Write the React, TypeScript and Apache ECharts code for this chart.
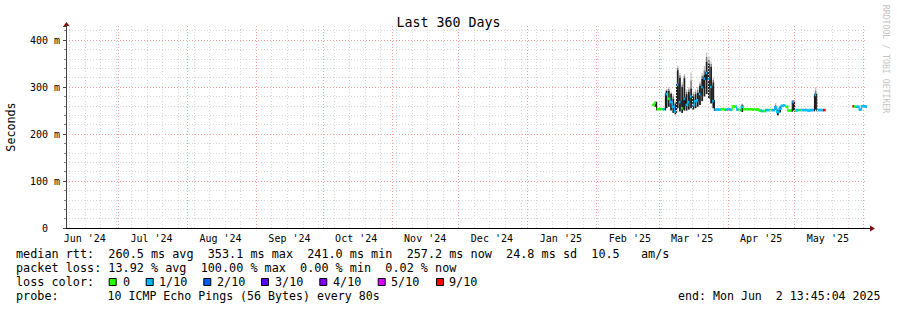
import React, { useEffect, useRef } from "react";
import * as echarts from "echarts";

// ---------- data ----------
const TITLE = "Last 360 Days";
const START = "2024-06-07T13:45:04Z";
const END = "2025-06-02T13:45:04Z";
const FIRST_DAY = "2025-02-26"; // first daily step of the median series

// median rtt per day (ms), null = no data
const medianMs: (number | null)[] = [
  262, 266, 253, 253, 253, 253,
  285, 275, 268, 258, 248, 305, 268, 255, 275, 262, 268, 280, 262, 270, 272,
  285, 300, 318, 330, 318, 300, 270,
  252, 252, 252, 253, 252, 252, 252, 252, 259, 258, 252, 251, 258, 253, 253,
  253, 253, 252, 252, 252, 250, 249, 249, 251, 251, 251, 251, 256, 247, 254,
  260, 261, 258, 250, 250, 268,
  250, 251, 251, 251, 251, 251, 250, 251, 251, 283, 251, 251, 251, 251,
  null, null, null, null, null, null, null, null, null, null, null, null,
  259, 258, 258, 252, 259, 259, 258,
];

// packet loss per day in tenths (colour class)
const lossTenths: number[] = [
  0, 0, 0, 0, 0, 1,
  1, 0, 1, 1, 1, 1, 1, 0, 1, 1, 1, 1, 1, 1, 1, 1, 1, 1, 1, 1, 1, 1,
  1, 1, 1, 0, 0, 1, 1, 1, 0, 0, 1, 0, 1, 0, 0, 0, 0, 0, 0, 0, 0, 1, 0, 1,
  1, 0, 1, 1, 1, 1, 1, 1, 0, 0, 0, 1,
  0, 1, 0, 1, 1, 1, 1, 1, 1, 1, 1, 1, 1, 9,
  0, 0, 0, 0, 0, 0, 0, 0, 0, 0, 0, 0,
  9, 0, 1, 1, 1, 1, 1,
];

// smoke (ping spread) on the days where it is visible
const smokeDates = [
  "2025-02-27",
  "2025-03-04", "2025-03-05", "2025-03-06", "2025-03-07", "2025-03-08",
  "2025-03-09", "2025-03-10", "2025-03-11", "2025-03-12", "2025-03-13",
  "2025-03-14", "2025-03-15", "2025-03-16", "2025-03-17", "2025-03-18",
  "2025-03-19", "2025-03-20", "2025-03-21", "2025-03-22", "2025-03-23",
  "2025-03-24", "2025-03-25",
  "2025-04-07", "2025-04-22", "2025-04-23", "2025-04-24", "2025-04-30",
  "2025-05-10",
];
const smokeLo = [
  258,
  255, 258, 250, 245, 242, 255, 248, 245, 250, 250, 252, 255, 252, 255, 258,
  262, 270, 280, 285, 275, 265, 255,
  247, 252, 240, 246, 250, 252,
];
const smokeHi = [
  268,
  292, 292, 285, 275, 265, 336, 320, 300, 319, 285, 290, 297, 280, 285, 288,
  303, 318, 326, 354, 350, 343, 310,
  262, 258, 252, 258, 271, 285,
];
const smokeMax = [
  270,
  296, 300, 290, 285, 270, 345, 330, 310, 328, 295, 300, 331, 290, 295, 300,
  312, 330, 345, 374, 365, 355, 320,
  265, 266, 254, 260, 272, 300,
];

// x axis: month start grid lines and mid-month labels
const monthStarts = [
  "2024-07-01", "2024-08-01", "2024-09-01", "2024-10-01", "2024-11-01",
  "2024-12-01", "2025-01-01", "2025-02-01", "2025-03-01", "2025-04-01",
  "2025-05-01", "2025-06-01",
];
const monthLabelDates = [
  "2024-06-16", "2024-07-16", "2024-08-16", "2024-09-16", "2024-10-16",
  "2024-11-16", "2024-12-16", "2025-01-16", "2025-02-16", "2025-03-16",
  "2025-04-16", "2025-05-16",
];
const monthLabels = [
  "Jun '24", "Jul '24", "Aug '24", "Sep '24", "Oct '24", "Nov '24",
  "Dec '24", "Jan '25", "Feb '25", "Mar '25", "Apr '25", "May '25",
];
const FIRST_SUNDAY = "2024-06-09"; // weekly minor grid

const Y_MAX = 430;

const LOSS_COLORS: Record<number, string> = {
  0: "#26ff00",
  1: "#00b8ff",
  2: "#0059ff",
  3: "#5e00ff",
  4: "#7e00ff",
  5: "#dd00ff",
  9: "#ff0000",
};
const lossLegend = [
  { label: "0", color: "#26ff00" },
  { label: "1/10", color: "#00b8ff" },
  { label: "2/10", color: "#0059ff" },
  { label: "3/10", color: "#5e00ff" },
  { label: "4/10", color: "#7e00ff" },
  { label: "5/10", color: "#dd00ff" },
  { label: "9/10", color: "#ff0000" },
];
const lossBoxX = [108.7, 145.7, 203.3, 261, 319.3, 377.7, 436];
const lossLabelX = [123, 159, 217, 275, 333, 391, 449];

const row1 = "median rtt:  260.5 ms avg  353.1 ms max  241.0 ms min  257.2 ms now  24.8 ms sd  10.5   am/s";
const row2 = "packet loss: 13.92 % avg  100.00 % max  0.00 % min  0.02 % now";
const row3 = "loss color:";
const row4a = "probe:";
const row4b = "10 ICMP Echo Pings (56 Bytes) every 80s";
const row4c = "end: Mon Jun  2 13:45:04 2025";

// ---------- helpers ----------
const DAY = 86400000;
const ms = (s: string) => Date.parse(s.length === 10 ? s + "T00:00:00Z" : s);
const START_MS = ms(START);
const END_MS = ms(END);
const FIRST_MS = ms(FIRST_DAY);
const pre = (s: string) => s.replace(/ /g, "\u00a0");
const FONT = '"DejaVu Sans Mono", "Liberation Mono", monospace';
const SMOKE_DARK = "#1e1e1e";

export default function App() {
  const ref = useRef<HTMLDivElement>(null);

  useEffect(() => {
    if (!ref.current) return;
    const chart = echarts.init(ref.current, undefined, { renderer: "svg" });

    const medianData: number[][] = [];
    medianMs.forEach((v, i) => {
      if (v == null) return;
      const prev = i > 0 ? medianMs[i - 1] : null;
      medianData.push([FIRST_MS + i * DAY, v, lossTenths[i], prev == null ? -1 : prev]);
    });
    const smokeData = smokeDates.map((d, i) => [ms(d), smokeLo[i], smokeHi[i], smokeMax[i]]);

    const weekLines: any[] = [];
    for (let t = ms(FIRST_SUNDAY); t < END_MS; t += 7 * DAY) weekLines.push({ xAxis: t });
    const monthLines = monthStarts.map((d) => ({ xAxis: ms(d) }));
    const labelMs = monthLabelDates.map(ms);

    const gridLine = (color: string) => ({
      symbol: ["none", "none"],
      silent: true,
      label: { show: false },
      emphasis: { disabled: true },
      lineStyle: { color, type: [1, 2], width: 1 },
    });

    const option: any = {
      animation: false,
      backgroundColor: "#ffffff",
      title: {
        text: TITLE,
        left: "center",
        top: 11,
        textStyle: { fontFamily: FONT, fontSize: 13.3, fontWeight: "normal", color: "#000" },
      },
      grid: { left: 66, right: 30, top: 26, bottom: 82, containLabel: false },
      xAxis: {
        type: "value",
        min: START_MS,
        max: END_MS,
        axisLine: { show: true, lineStyle: { color: "#000", width: 1 } },
        axisTick: { show: false },
        splitLine: { show: false },
        axisLabel: {
          customValues: labelMs,
          formatter: (v: number) => {
            const i = labelMs.indexOf(v);
            return i >= 0 ? monthLabels[i] : "";
          },
          fontFamily: FONT,
          fontSize: 10,
          color: "#000",
          margin: 5,
        },
      },
      yAxis: {
        type: "value",
        min: 0,
        max: Y_MAX,
        interval: 100,
        axisLine: { show: true, lineStyle: { color: "#444", width: 1 } },
        axisTick: { show: true, length: 3, lineStyle: { color: "#444" } },
        minorTick: { show: true, splitNumber: 5, length: 2, lineStyle: { color: "#888" } },
        splitLine: {
          show: true,
          showMinLine: false,
          showMaxLine: false,
          lineStyle: { color: "#f2a0a0", type: [1, 2], width: 1 },
        },
        minorSplitLine: { show: true, lineStyle: { color: "#d8d8d8", type: [1, 2], width: 1 } },
        axisLabel: {
          formatter: (v: number) => (v === 0 ? "0\u00a0\u00a0" : v % 100 === 0 ? `${v} m` : ""),
          showMaxLabel: false,
          fontFamily: FONT,
          fontSize: 10,
          color: "#000",
          margin: 6,
        },
      },
      series: [
        {
          type: "line",
          name: "weeks",
          data: [],
          z: 1,
          silent: true,
          markLine: { ...gridLine("#d8d8d8"), data: weekLines },
        },
        {
          type: "line",
          name: "months",
          data: [],
          z: 2,
          silent: true,
          markLine: { ...gridLine("#f2a0a0"), data: monthLines },
        },
        {
          type: "custom",
          name: "smoke",
          z: 3,
          silent: true,
          clip: true,
          data: smokeData,
          encode: { x: 0, y: [1, 2, 3] },
          renderItem: (_p: any, api: any) => {
            const t = api.value(0);
            const lo = api.value(1);
            const hi = api.value(2);
            const mx = api.value(3);
            const x0 = api.coord([t, lo])[0];
            const x1 = api.coord([t + DAY, lo])[0];
            const w = x1 - x0;
            const yLo = api.coord([t, lo])[1];
            const yHi = api.coord([t, hi])[1];
            const yMx = api.coord([t, mx])[1];
            const yMid = (yHi + yMx) / 2;
            return {
              type: "group",
              children: [
                { type: "rect", shape: { x: x0 + w * 0.2, y: yMx, width: w * 0.6, height: yMid - yMx }, style: { fill: "#c4c4c4" } },
                { type: "rect", shape: { x: x0 + w * 0.15, y: yMid, width: w * 0.7, height: yHi - yMid }, style: { fill: "#7a7a7a" } },
                { type: "rect", shape: { x: x0 + w * 0.1, y: yHi, width: w * 0.8, height: Math.max(1, yLo - yHi) }, style: { fill: SMOKE_DARK } },
              ],
            };
          },
        },
        {
          type: "custom",
          name: "median",
          z: 4,
          silent: true,
          clip: true,
          data: medianData,
          encode: { x: 0, y: 1 },
          renderItem: (_p: any, api: any) => {
            const t = api.value(0);
            const v = api.value(1);
            const loss = api.value(2);
            const prev = api.value(3);
            const [x0, y] = api.coord([t, v]);
            const x1 = api.coord([t + DAY, v])[0];
            const color = LOSS_COLORS[loss] || "#00b8ff";
            const children: any[] = [];
            if (prev >= 0) {
              const yp = api.coord([t, prev])[1];
              const jump = Math.abs(y - yp);
              children.push({
                type: "rect",
                shape: { x: x0 - 0.6, y: Math.min(y, yp) - 1.25, width: 1.2, height: jump + 2.5 },
                style: { fill: jump < 5 ? color : SMOKE_DARK },
              });
            }
            children.push({
              type: "rect",
              shape: { x: x0, y: y - 1.25, width: x1 - x0, height: 2.5 },
              style: { fill: color },
            });
            return { type: "group", children };
          },
        },
      ],
    };

    chart.setOption(option);

    // decorations: axis arrows, legend texts, watermark
    const [ax, ay] = chart.convertToPixel({ xAxisIndex: 0, yAxisIndex: 0 }, [END_MS, 0]) as number[];
    const [ox, oy] = chart.convertToPixel({ xAxisIndex: 0, yAxisIndex: 0 }, [START_MS, Y_MAX]) as number[];
    const arrowColor = "#7a1010";
    const txt = (text: string, x: number, y: number, size = 11.8, extra: any = {}) => ({
      type: "text",
      x,
      y,
      silent: true,
      style: {
        text: pre(text),
        fontFamily: FONT,
        fontSize: size,
        fill: "#000",
        align: "left",
        verticalAlign: "middle",
        ...extra,
      },
    });

    const graphic: any[] = [
      { type: "line", silent: true, shape: { x1: ax, y1: ay + 0.5, x2: ax + 3, y2: ay + 0.5 }, style: { stroke: "#000", lineWidth: 1 } },
      { type: "polygon", silent: true, shape: { points: [[ax + 3, ay - 2.5], [ax + 8, ay + 0.5], [ax + 3, ay + 3.5]] }, style: { fill: arrowColor } },
      { type: "polygon", silent: true, shape: { points: [[ox - 2.5, oy], [ox + 0.5, oy - 4], [ox + 3.5, oy]] }, style: { fill: arrowColor } },
      {
        type: "text",
        x: 11,
        y: 127,
        rotation: Math.PI / 2,
        silent: true,
        style: { text: "Seconds", fontFamily: FONT, fontSize: 11.7, fill: "#000", align: "center", verticalAlign: "middle" },
      },
      {
        type: "text",
        x: 886,
        y: 59,
        rotation: -Math.PI / 2,
        silent: true,
        style: { text: pre("RRDTOOL / TOBI OETIKER"), fontFamily: FONT, fontSize: 8.2, fill: "#c4c4c4", align: "center", verticalAlign: "middle" },
      },
      txt(row1, 16, 254.3),
      txt(row2, 16, 268.3),
      txt(row3, 16, 282.3),
      txt(row4a, 16, 296),
      txt(row4b, 107.5, 296, 11.6),
      txt(row4c, 880.5, 296, 11.6, { align: "right" }),
    ];
    lossLegend.forEach((l, i) => {
      graphic.push({
        type: "rect",
        silent: true,
        shape: { x: lossBoxX[i] + 0.5, y: 278.5, width: 7, height: 7 },
        style: { fill: l.color, stroke: "#000", lineWidth: 1 },
      });
      graphic.push(txt(l.label, lossLabelX[i], 282.3));
    });

    chart.setOption({ graphic });

    return () => chart.dispose();
  }, []);

  return (
    <div
      ref={ref}
      style={{ position: "fixed", left: 0, top: 0, width: 897, height: 310, background: "#fff" }}
    />
  );
}
